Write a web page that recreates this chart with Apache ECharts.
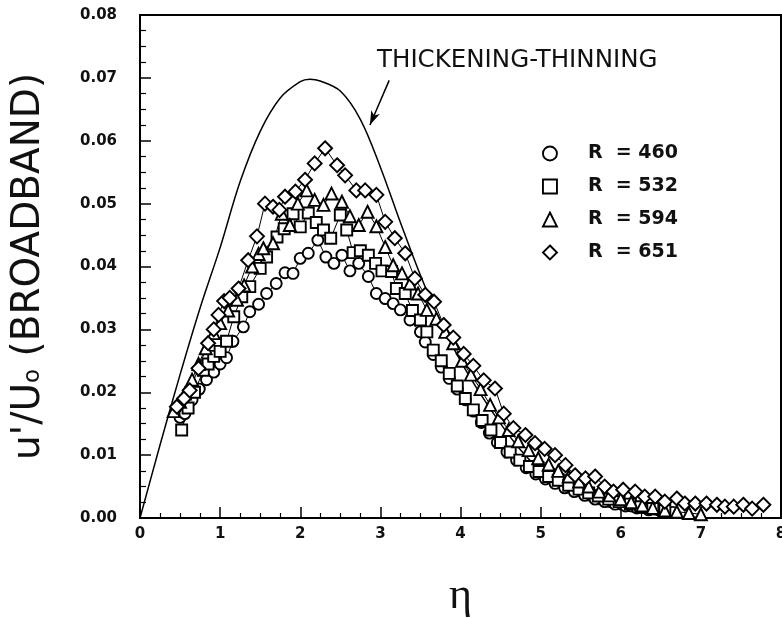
<!DOCTYPE html>
<html>
<head>
<meta charset="utf-8">
<script src="https://cdn.jsdelivr.net/npm/echarts/dist/echarts.min.js"></script>
<style>
html,body{margin:0;padding:0;background:#fff;overflow:hidden;}
#chart{width:782px;height:618px;display:block;}
</style>
</head>
<body>
<div id="chart"></div>
<script>
// ---- Data ----
const xTicks = [0, 1, 2, 3, 4, 5, 6, 7, 8];
const yTicks = [0.00, 0.01, 0.02, 0.03, 0.04, 0.05, 0.06, 0.07, 0.08];
const seriesNames = ['R = 460', 'R = 532', 'R = 594', 'R = 651'];

// Theoretical thickening-thinning curve
const etaTheory = [0, 0.25, 0.5, 0.75, 1.0, 1.25, 1.5, 1.75, 2.0, 2.12, 2.25, 2.5, 2.75, 3.0, 3.25, 3.5, 3.75, 4.0, 4.25, 4.5, 4.75, 5.0, 5.25, 5.5, 5.75, 6.0, 6.25, 6.5, 6.75, 7.0];
const uTheory   = [0, 0.0116, 0.0228, 0.0334, 0.0430, 0.0535, 0.0615, 0.0668, 0.0694, 0.0698, 0.0695, 0.0679, 0.0634, 0.0558, 0.0470, 0.0386, 0.0312, 0.0250, 0.0197, 0.0150, 0.0108, 0.0075, 0.0050, 0.0033, 0.0021, 0.0013, 0.0008, 0.0004, 0.0002, 0.0001];

// R = 460 (circles)
const eta460 = [0.50, 0.56, 0.65, 0.74, 0.83, 0.92, 1.00, 1.08, 1.16, 1.29, 1.37, 1.48, 1.58, 1.70, 1.81, 1.91, 2.00, 2.10, 2.22, 2.32, 2.42, 2.52, 2.62, 2.73, 2.85, 2.95, 3.06, 3.16, 3.25, 3.37, 3.50, 3.56, 3.66, 3.76, 3.86, 3.96, 4.06, 4.16, 4.26, 4.36, 4.46, 4.58, 4.70, 4.82, 4.94, 5.06, 5.18, 5.30, 5.42, 5.55, 5.68, 5.80, 5.93, 6.06, 6.20, 6.35, 6.50, 6.65];
const u460   = [0.0160, 0.0166, 0.0188, 0.0205, 0.0220, 0.0232, 0.0245, 0.0255, 0.0281, 0.0304, 0.0328, 0.0340, 0.0357, 0.0373, 0.0390, 0.0389, 0.0413, 0.0421, 0.0442, 0.0415, 0.0405, 0.0418, 0.0393, 0.0405, 0.0384, 0.0357, 0.0349, 0.0341, 0.0331, 0.0315, 0.0296, 0.0280, 0.0260, 0.0240, 0.0222, 0.0205, 0.0188, 0.0170, 0.0152, 0.0135, 0.0120, 0.0105, 0.0092, 0.0080, 0.0070, 0.0062, 0.0055, 0.0048, 0.0042, 0.0036, 0.0030, 0.0026, 0.0022, 0.0019, 0.0016, 0.0013, 0.0011, 0.0009];

// R = 532 (squares)
const eta532 = [0.52, 0.60, 0.68, 0.79, 0.85, 0.92, 1.00, 1.08, 1.17, 1.27, 1.37, 1.50, 1.58, 1.71, 1.80, 1.91, 2.00, 2.10, 2.20, 2.29, 2.38, 2.50, 2.58, 2.66, 2.75, 2.85, 2.94, 3.02, 3.14, 3.20, 3.31, 3.40, 3.50, 3.58, 3.66, 3.76, 3.86, 3.96, 4.06, 4.16, 4.27, 4.38, 4.50, 4.62, 4.74, 4.86, 4.98, 5.10, 5.22, 5.35, 5.48, 5.60, 5.72, 5.85, 5.98, 6.12, 6.25, 6.40, 6.55];
const u532   = [0.0140, 0.0175, 0.0200, 0.0235, 0.0245, 0.0257, 0.0265, 0.0281, 0.0320, 0.0352, 0.0368, 0.0397, 0.0415, 0.0447, 0.0460, 0.0484, 0.0463, 0.0485, 0.0470, 0.0458, 0.0445, 0.0482, 0.0458, 0.0422, 0.0425, 0.0418, 0.0405, 0.0393, 0.0392, 0.0365, 0.0357, 0.0330, 0.0315, 0.0296, 0.0267, 0.0250, 0.0230, 0.0210, 0.0190, 0.0172, 0.0155, 0.0140, 0.0120, 0.0105, 0.0092, 0.0082, 0.0074, 0.0066, 0.0060, 0.0052, 0.0046, 0.0040, 0.0035, 0.0030, 0.0026, 0.0022, 0.0018, 0.0015, 0.0012];

// R = 594 (triangles)
const eta594 = [0.42, 0.50, 0.56, 0.65, 0.73, 0.82, 0.92, 1.00, 1.10, 1.21, 1.30, 1.40, 1.48, 1.54, 1.66, 1.77, 1.87, 1.97, 2.08, 2.18, 2.29, 2.39, 2.52, 2.62, 2.73, 2.84, 2.95, 3.06, 3.16, 3.27, 3.37, 3.47, 3.58, 3.70, 3.81, 3.91, 4.02, 4.13, 4.25, 4.37, 4.48, 4.60, 4.72, 4.85, 4.97, 5.10, 5.22, 5.35, 5.48, 5.60, 5.73, 5.86, 6.00, 6.13, 6.27, 6.40, 6.55, 6.70, 6.85, 7.00];
const u594   = [0.0170, 0.0185, 0.0198, 0.0220, 0.0245, 0.0270, 0.0294, 0.0310, 0.0330, 0.0347, 0.0370, 0.0400, 0.0420, 0.0429, 0.0437, 0.0484, 0.0466, 0.0500, 0.0521, 0.0506, 0.0498, 0.0516, 0.0503, 0.0480, 0.0466, 0.0487, 0.0464, 0.0431, 0.0402, 0.0389, 0.0373, 0.0357, 0.0331, 0.0317, 0.0296, 0.0278, 0.0250, 0.0228, 0.0205, 0.0180, 0.0160, 0.0140, 0.0122, 0.0108, 0.0095, 0.0085, 0.0075, 0.0066, 0.0058, 0.0050, 0.0042, 0.0036, 0.0030, 0.0025, 0.0020, 0.0016, 0.0012, 0.0010, 0.0008, 0.0006];

// R = 651 (diamonds)
const eta651 = [0.46, 0.55, 0.62, 0.73, 0.85, 0.92, 0.98, 1.05, 1.12, 1.23, 1.35, 1.46, 1.56, 1.66, 1.74, 1.81, 1.94, 2.06, 2.18, 2.31, 2.46, 2.56, 2.70, 2.81, 2.95, 3.06, 3.18, 3.31, 3.43, 3.56, 3.67, 3.79, 3.91, 4.04, 4.16, 4.29, 4.43, 4.54, 4.66, 4.81, 4.93, 5.05, 5.18, 5.31, 5.43, 5.56, 5.68, 5.80, 5.91, 6.03, 6.18, 6.30, 6.43, 6.55, 6.70, 6.80, 6.93, 7.07, 7.20, 7.30, 7.41, 7.53, 7.64, 7.78];
const u651   = [0.0177, 0.0190, 0.0203, 0.0238, 0.0278, 0.0300, 0.0323, 0.0345, 0.0350, 0.0365, 0.0410, 0.0448, 0.0500, 0.0495, 0.0490, 0.0511, 0.0519, 0.0538, 0.0564, 0.0588, 0.0561, 0.0545, 0.0521, 0.0521, 0.0514, 0.0471, 0.0445, 0.0421, 0.0381, 0.0355, 0.0344, 0.0307, 0.0287, 0.0261, 0.0242, 0.0219, 0.0206, 0.0166, 0.0143, 0.0132, 0.0119, 0.0110, 0.0100, 0.0084, 0.0068, 0.0063, 0.0066, 0.0050, 0.0042, 0.0045, 0.0042, 0.0034, 0.0034, 0.0026, 0.0031, 0.0023, 0.0023, 0.0023, 0.0021, 0.0018, 0.0018, 0.0021, 0.0015, 0.0021];

// Annotation arrow (data coordinates)
const arrowFrom = [3.11, 0.0696];
const arrowTo = [2.87, 0.0625];

// ---- Chart ----
const zip = (xs, ys) => xs.map((x, i) => [x, ys[i]]);
const chart = echarts.init(document.getElementById('chart'), null, {renderer: 'canvas'});

const markerStyle = {color: '#fff', borderColor: '#000', borderWidth: 1.9};
function dataSeries(name, xs, ys, symbol, size) {
  return {
    name: name, type: 'line', data: zip(xs, ys),
    symbol: symbol, symbolSize: size, showAllSymbol: true,
    lineStyle: {color: '#000', width: 1},
    itemStyle: markerStyle,
    emphasis: {disabled: true},
    animation: false
  };
}

const tickFont = {fontFamily: 'DejaVu Sans', fontWeight: 'bold', fontSize: 15, color: '#111'};

chart.setOption({
  backgroundColor: '#fff',
  animation: false,
  grid: {left: 140, right: 1, top: 15, bottom: 100, containLabel: false, outerBoundsMode: 'none',
    show: true, borderColor: '#000', borderWidth: 2, backgroundColor: 'transparent'},
  xAxis: {
    type: 'value', min: xTicks[0], max: xTicks[xTicks.length - 1], interval: 1,
    name: 'η', nameLocation: 'middle', nameGap: 56,
    nameTextStyle: {fontFamily: 'Liberation Serif', fontSize: 44, color: '#111'},
    axisLine: {show: true, lineStyle: {color: '#000', width: 2}},
    axisTick: {show: true, inside: true, length: 11, lineStyle: {color: '#000', width: 1.5}},
    minorTick: {show: true, splitNumber: 4, length: 5, lineStyle: {color: '#000', width: 1.2}},
    axisLabel: Object.assign({margin: 9, formatter: v => String(v)}, tickFont),
    splitLine: {show: false}
  },
  yAxis: {
    type: 'value', min: yTicks[0], max: yTicks[yTicks.length - 1], interval: 0.01,
    name: "u'/U{s|o} (BROADBAND)", nameLocation: 'middle', nameGap: 92,
    nameTextStyle: {fontFamily: 'DejaVu Sans', fontSize: 39, color: '#111',
      rich: {s: {fontFamily: 'DejaVu Sans', fontSize: 23, color: '#111', padding: [10, 0, 0, 0]}}},
    axisLine: {show: true, lineStyle: {color: '#000', width: 2}},
    axisTick: {show: true, inside: true, length: 11, lineStyle: {color: '#000', width: 1.5}},
    minorTick: {show: true, splitNumber: 4, length: 6, lineStyle: {color: '#000', width: 1.2}},
    axisLabel: Object.assign({margin: 23, formatter: v => v.toFixed(2)}, tickFont),
    splitLine: {show: false}
  },
  legend: {
    orient: 'vertical', left: 542, top: 144, itemGap: 14, itemWidth: 14, itemHeight: 14,
    padding: 0, selectedMode: false,
    data: [
      {name: seriesNames[0], icon: 'circle', itemStyle: markerStyle},
      {name: seriesNames[1], icon: 'rect', itemStyle: markerStyle},
      {name: seriesNames[2], icon: 'triangle', itemStyle: markerStyle},
      {name: seriesNames[3], icon: 'diamond', itemStyle: markerStyle}
    ],
    formatter: n => '{g|}' + n.replace(' = ', '  = '),
    textStyle: {fontFamily: 'DejaVu Sans', fontWeight: 'bold', fontSize: 19, color: '#111', lineHeight: 18,
      rich: {g: {width: 26}}}
  },
  graphic: [{
    type: 'text', x: 377, y: 61, silent: true,
    style: {text: 'THICKENING-THINNING', font: '24.5px "DejaVu Sans"', fill: '#111', textAlign: 'left', textVerticalAlign: 'middle'}
  }],
  series: [
    {
      name: 'theory', type: 'line', data: zip(etaTheory, uTheory), smooth: 0.35,
      symbol: 'none', lineStyle: {color: '#000', width: 1.5}, emphasis: {disabled: true}, animation: false,
      markLine: {
        silent: true, animation: false, symbol: ['none', 'arrow'], symbolSize: [7, 14],
        lineStyle: {color: '#000', width: 1.5, type: 'solid'}, label: {show: false},
        data: [[{coord: arrowFrom}, {coord: arrowTo}]]
      }
    },
    dataSeries(seriesNames[0], eta460, u460, 'circle', 11),
    dataSeries(seriesNames[1], eta532, u532, 'rect', 11),
    dataSeries(seriesNames[2], eta594, u594, 'triangle', 12),
    dataSeries(seriesNames[3], eta651, u651, 'diamond', 14)
  ]
});
</script>
</body>
</html>
